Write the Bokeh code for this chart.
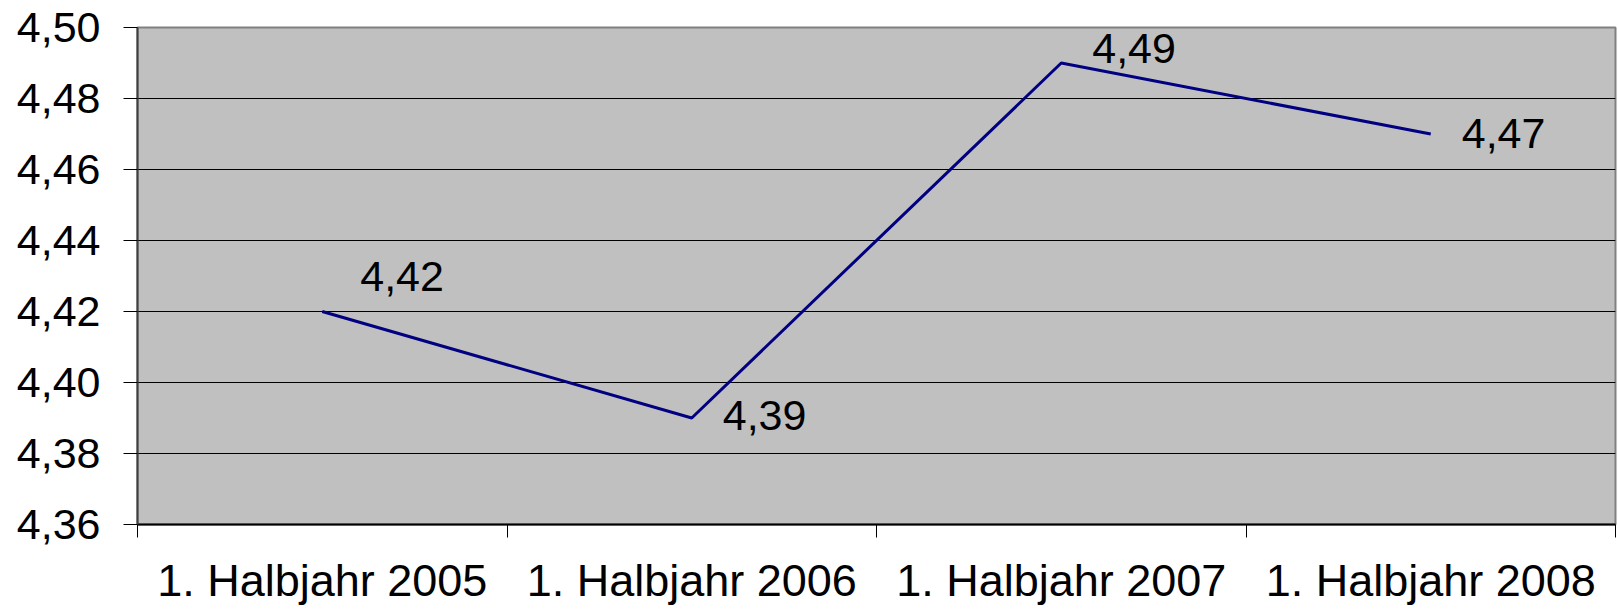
from bokeh.plotting import figure
from bokeh.models import ColumnDataSource, FixedTicker, Range1d, CustomJSTickFormatter
from bokeh.core.properties import value
from bokeh.embed import file_html
from bokeh.resources import INLINE

# ---- data ----
categories = ["1. Halbjahr 2005", "1. Halbjahr 2006", "1. Halbjahr 2007", "1. Halbjahr 2008"]
values = [4.42, 4.39, 4.49, 4.47]
value_labels = ["4,42", "4,39", "4,49", "4,47"]
y_ticks = [4.36, 4.38, 4.40, 4.42, 4.44, 4.46, 4.48, 4.50]
y_tick_labels = ["4,36", "4,38", "4,40", "4,42", "4,44", "4,46", "4,48", "4,50"]

# label placement (screen pixels)
label_dx = [38, 31, 31, 31]
label_dy = [-35, -3, -15, -1]

FONT = "Liberation Sans"
n = len(categories)
xs = [i + 0.5 for i in range(n)]

p = figure(width=1619, height=609, output_backend="svg", toolbar_location=None,
           x_range=Range1d(0, n), y_range=Range1d(y_ticks[0], y_ticks[-1]),
           min_border_left=137, min_border_right=4, min_border_top=27, min_border_bottom=85)

p.background_fill_color = "#C0C0C0"
p.border_fill_color = "white"
p.outline_line_color = "#808080"
p.outline_line_width = 2

# grid
p.xgrid.visible = False
p.ygrid.ticker = FixedTicker(ticks=y_ticks)
p.ygrid.grid_line_color = "black"
p.ygrid.grid_line_width = 1

# y axis
ya = p.yaxis[0]
ya.ticker = FixedTicker(ticks=y_ticks)
ya.formatter = CustomJSTickFormatter(args=dict(yt=y_ticks, ylab=y_tick_labels), code="""
for (let i = 0; i < yt.length; i++) { if (Math.abs(yt[i] - tick) < 1e-9) return ylab[i]; }
return "";
""")
ya.major_label_text_font = FONT
ya.major_label_text_font_size = "43px"
ya.major_label_text_color = "black"
ya.major_tick_out = 14
ya.major_tick_in = 0
ya.major_tick_line_color = "black"
ya.minor_tick_line_color = None
ya.axis_line_color = "#404040"
ya.axis_line_width = 2
ya.major_label_standoff = 23

# x axis
xa = p.xaxis[0]
xa.ticker = FixedTicker(ticks=xs, minor_ticks=list(range(n + 1)))
xa.formatter = CustomJSTickFormatter(args=dict(cats=categories), code="""
return cats[Math.round(tick - 0.5)];
""")
xa.major_label_text_font = FONT
xa.major_label_text_font_size = "45px"
xa.major_label_text_color = "black"
xa.major_tick_out = 0
xa.major_tick_in = 0
xa.major_tick_line_color = None
xa.minor_tick_out = 13
xa.minor_tick_in = 0
xa.minor_tick_line_color = "black"
xa.axis_line_color = "black"
xa.axis_line_width = 2
xa.major_label_standoff = 17

src = ColumnDataSource(dict(x=xs, y=values, label=value_labels, dx=label_dx, dy=label_dy))
p.line("x", "y", source=src, line_color="#000080", line_width=3)
p.text("x", "y", text="label", source=src, x_offset="dx", y_offset="dy",
       text_font=value(FONT), text_font_size="43px", text_color="black",
       text_align="left", text_baseline="middle")

open("out.html", "w").write(file_html(p, INLINE))
